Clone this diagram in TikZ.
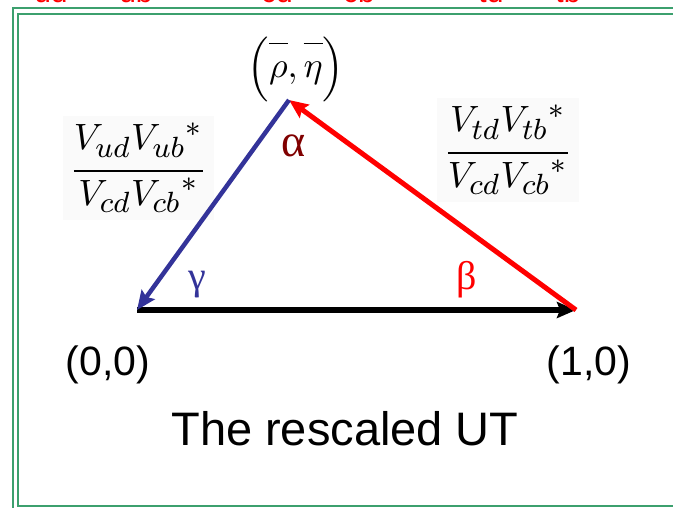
\documentclass[tikz,border=0pt]{standalone}
\usepackage{graphicx}
\usepackage{fontspec}
\newfontfamily\arialf{Liberation Sans}
\newfontfamily\timesf{Liberation Serif}
\usetikzlibrary{arrows.meta}
\DeclareMathSizes{10}{10}{8}{6}
\definecolor{bord}{RGB}{60,160,110}
\definecolor{vblue}{RGB}{51,51,153}
\definecolor{vred}{RGB}{255,0,0}
\definecolor{dred}{RGB}{128,0,0}
\definecolor{fracbg}{RGB}{250,250,250}
\newcommand{\bigmath}[2][3.66]{\scalebox{#1}{$\displaystyle #2$}}
\newcommand{\numstrut}{\rule[-4.3pt]{0pt}{4.3pt}}
\begin{document}
\begin{tikzpicture}[x=1pt,y=-1pt,
  frame/.style={bord,line width=2pt},
  side/.style={line width=5pt,-{Stealth[length=19pt,width=16pt,inset=3pt]}},
  mathlbl/.style={inner sep=0pt,anchor=base},
  fracbox/.style={mathlbl,fill=fracbg,inner sep=7pt},
  coordlbl/.style={font=\arialf\fontsize{41}{45}\selectfont,anchor=base,inner sep=0pt},
  angl/.style={font=\timesf\fontsize{40}{44}\selectfont,anchor=base,inner sep=0pt},
  toplbl/.style={vred,font=\arialf\fontsize{30}{34}\selectfont,anchor=base,inner sep=0pt}]
\useasboundingbox (0,0) rectangle (673,508);
% frame
\draw[frame] (13,530) -- (13,8) -- (700,8);
\draw[frame] (700,506) -- (18,506) -- (18,14) -- (700,14);
% cut-off red text at the top
\begin{scope}
\clip (0,0) rectangle (673,2.8);
\node[toplbl] (t1) at (51,2.3) {ud};
\node[toplbl] (t2) at (136,2.3) {ub};
\node[toplbl] (t3) at (277,2.3) {cd};
\node[toplbl] (t4) at (359,2.3) {cb};
\node[toplbl] (t5) at (491,2.3) {td};
\node[toplbl] (t6) at (568,2.3) {tb};
\end{scope}
% labels (drawn first so that the sides pass over the boxes)
\node[fracbox] (f1) at (138.5,180) {\bigmath{\frac{\numstrut V_{ud}{V_{ub}}^{*}}{V_{cd}{V_{cb}}^{*}}}};
\node[fracbox] (f2) at (508,162) {\bigmath{\frac{\numstrut V_{td}{V_{tb}}^{*}}{V_{cd}{V_{cb}}^{*}}}};
\node[mathlbl] (pe) at (296,78) {\bigmath[3.6]{\Bigl(\overline{\rule{0pt}{8.2pt}\rho},\overline{\rule{0pt}{8.2pt}\eta}\Bigr)}};
% triangle
\coordinate (O) at (137,310);
\coordinate (A) at (576,310);
\coordinate (P) at (289,100);
\draw[side,black] (O) -- (A);
\draw[side,vred] (A) -- (P);
\draw[side,vblue,line width=4.5pt] (P) -- (O);
\node[angl,dred,font=\timesf\fontsize{46}{50}\selectfont] (al) at (294,157) {α};
\node[angl,vblue] (ga) at (197,290) {γ};
\node[angl,vred] (be) at (467,290) {β};
\node[coordlbl] (c0) at (108,375) {(0,0)};
\node[coordlbl] (c1) at (589,375) {(1,0)};
\node[coordlbl,font=\arialf\fontsize{47}{50}\selectfont] (ttl) at (345,445) {The rescaled UT};
\end{tikzpicture}
\end{document}
